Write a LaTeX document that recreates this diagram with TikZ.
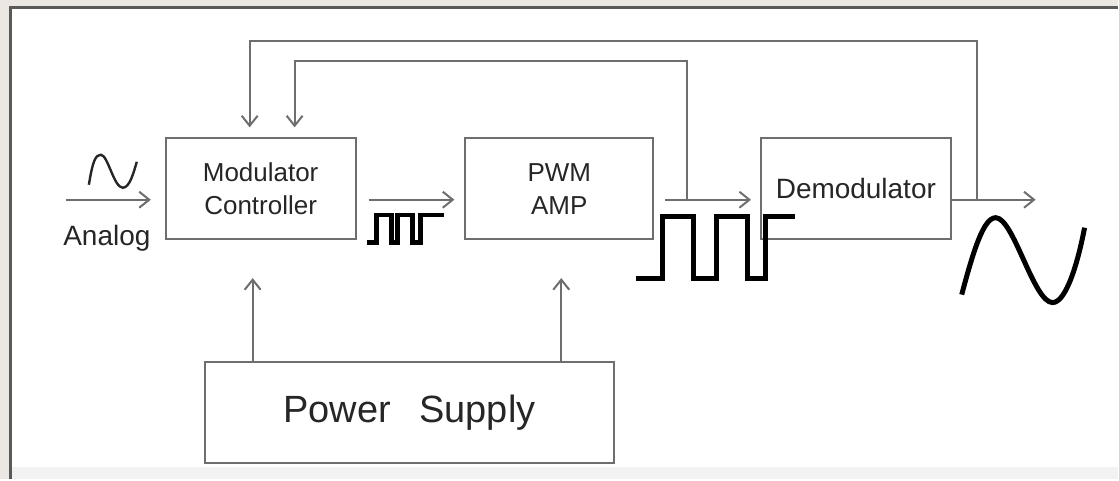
\documentclass[tikz,border=0pt]{standalone}
\usepackage{fontspec}
\setmainfont{Liberation Sans}
\usetikzlibrary{positioning,calc,arrows.meta}
\definecolor{bgbeige}{HTML}{EBE7E3}
\definecolor{ln}{HTML}{6E6E6E}
\definecolor{txt}{HTML}{262626}
\tikzset{b/.style={draw=ln,line width=1pt,text=txt,align=center,inner sep=0pt,minimum height=50.5pt},
 a/.style={draw=ln,line width=1pt,-{Straight Barb[length=5pt,width=8pt]}},
 w/.style={line width=2.5pt,line join=miter,black}}

\begin{document}
\begin{tikzpicture}[x=0.5pt,y=-0.5pt]
 	   		\fill[bgbeige] (0,0) rectangle (1119,480);
 	   		\fill[white] (10,7) rectangle (1119,480);
 	   		\fill[black!5] (10,468) rectangle (1119,480);
 	   		\draw[gray!70!black,line width=1.5pt] (10.5,480) -- (10.5,7.5) -- (1119,7.5);
 	   		\node[b,minimum width=95pt,font=\fontsize{13}{16.5}\selectfont] (mod) at (261,189) {Modulator\\Controller};
 	   		\node[b,minimum width=94pt,font=\fontsize{13}{16.5}\selectfont,right=54pt of mod] (pwm) {PWM\\AMP};
 	   		\node[b,minimum width=95pt,font=\fontsize{14}{17}\selectfont,right=53pt of pwm] (dem) {Demodulator};
 	   		\node[b,minimum width=205pt,minimum height=51pt,font=\fontsize{19}{23}\selectfont] (ps) at (410,413) {Power\hspace{0.75em}Supply};
 	   		\node[font=\fontsize{14}{17}\selectfont,text=txt,anchor=base] (lbl) at (107,246) {Analog};
 	   		\path (66,200) coordinate (ain)
 	   		       (1037,200) coordinate (aout)
 	   		       (978,200) coordinate (fo)
 	   		       (688,200) coordinate (fi)
 	   		       ([xshift=-4pt]mod.south) coordinate (p1)
 	   		       ([xshift=1pt]pwm.south) coordinate (p2);
 	   		    \draw[a,shorten >=7pt] (ain) -- (ain -| mod.west);
 	   		    \draw[a,shorten <=6pt,shorten >=5pt] ([yshift=-5.5pt]mod.east) -- ([yshift=-5.5pt]pwm.west);
 	   		    \draw[a,shorten <=5.5pt,shorten >=4.5pt] ([yshift=-5.5pt]pwm.east) -- ([yshift=-5.5pt]dem.west);
 	   		    \draw[a] ([yshift=-5.5pt]dem.east) -- (aout);
 	   		    \draw[a,shorten >=5pt] (fo) |- ([xshift=-5.5pt,yshift=48.25pt]mod.north) -- ([xshift=-5.5pt]mod.north);
 	   		    \draw[a,shorten >=5pt] (fi) |- ([xshift=17pt,yshift=38.25pt]mod.north) -- ([xshift=17pt]mod.north);
 	   		    \draw[a,shorten >=19pt] (p1 |- ps.north) -- (p1);
 	   		    \draw[a,shorten >=19pt] (p2 |- ps.north) -- (p2);
 	   		     \draw[line width=1.2pt,txt] (89,185) .. controls (93,160) and (96,155) .. (101,155) .. controls (108,155) and (114,188) .. (123,188) .. controls (130,188) and (134,172) .. (137,162);
 	   		     \draw[w,line width=2.2pt] (367,243) -- (377,243) -- (377,215) -- (392,215) -- (392,243) -- (398,243) -- (398,215) -- (413,215) -- (413,243) -- (421,243) -- (421,215) -- (445,215);
 	   		     \draw[w] (637,279) -- (663,279) -- (663,217) -- (694,217) -- (694,279) -- (717,279) -- (717,217) -- (748,217) -- (748,279) -- (767,279) -- (767,217) -- (796,217);
 	   		     \draw[w] (963,295) .. controls (975,250) and (985,218) .. (997,218) .. controls (1015,218) and (1035,303) .. (1054,303) .. controls (1068,303) and (1080,260) .. (1086,228);
 	   		\end{tikzpicture}
\end{document}
